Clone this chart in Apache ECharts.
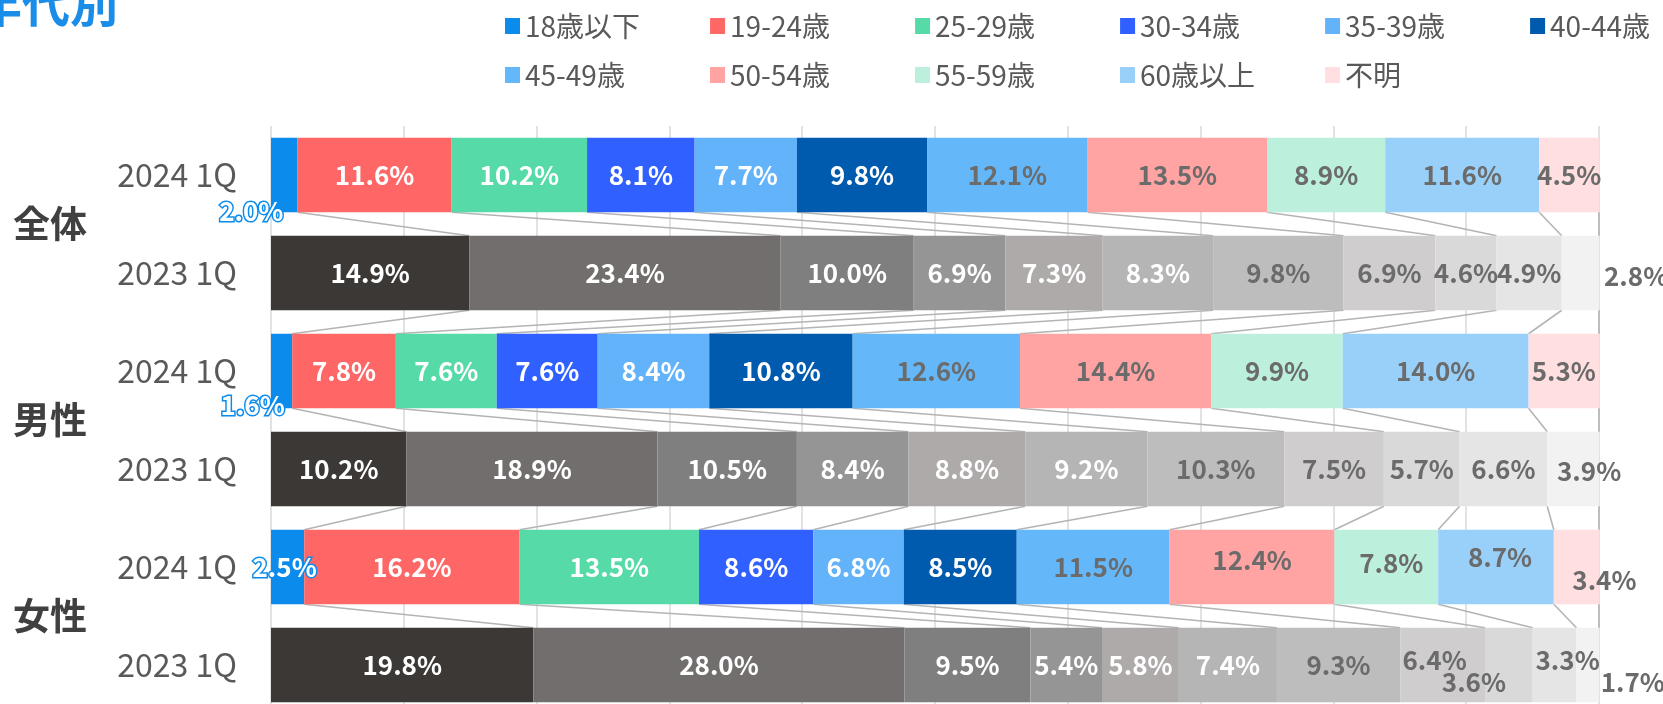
<!DOCTYPE html>
<html>
<head>
<meta charset="utf-8">
<script src="https://cdn.jsdelivr.net/npm/echarts@6/dist/echarts.min.js"></script>
<style>
  html, body { margin: 0; padding: 0; background: #fff; overflow: hidden; }
  #chart { width: 1663px; height: 720px; }
</style>
</head>
<body>
<div id="chart"></div>
<script>
const ageGroups = ['18歳以下', '19-24歳', '25-29歳', '30-34歳', '35-39歳', '40-44歳',
  '45-49歳', '50-54歳', '55-59歳', '60歳以上', '不明']
const rowLabels = ['2024 1Q', '2023 1Q', '2024 1Q', '2023 1Q', '2024 1Q', '2023 1Q']
const groupLabels = ['全体', '男性', '女性']

const all2024 = [2.0, 11.6, 10.2, 8.1, 7.7, 9.8, 12.1, 13.5, 8.9, 11.6, 4.5]
const all2023 = [14.9, 23.4, 10.0, 6.9, 7.3, 8.3, 9.8, 6.9, 4.6, 4.9, 2.8]
const male2024 = [1.6, 7.8, 7.6, 7.6, 8.4, 10.8, 12.6, 14.4, 9.9, 14.0, 5.3]
const male2023 = [10.2, 18.9, 10.5, 8.4, 8.8, 9.2, 10.3, 7.5, 5.7, 6.6, 3.9]
const female2024 = [2.5, 16.2, 13.5, 8.6, 6.8, 8.5, 11.5, 12.4, 7.8, 8.7, 3.4]
const female2023 = [19.8, 28.0, 9.5, 5.4, 5.8, 7.4, 9.3, 6.4, 3.6, 3.3, 1.7]
const rows = [all2024, all2023, male2024, male2023, female2024, female2023]

// colours
const colors2024 = ['#0b8ced', '#ff6666', '#56dba8', '#3060ff', '#62b3f9', '#005aad',
  '#64b8fa', '#ffa3a3', '#bcf0dd', '#99d0f9', '#ffdfe0']
const colors2023 = ['#3b3836', '#726e6d', '#7f7f7f', '#959595', '#aeaaaa', '#b5b5b5',
  '#bdbdbd', '#cfcdcd', '#d9d9d9', '#e5e5e5', '#f2f2f2']
const FONT = '"Noto Sans CJK JP", "Noto Sans", sans-serif'
const BAR_RATIO = 0.76

// hand-placed labels (like the moved labels in the original)
const blueLabel = { color: '#fff', textBorderColor: '#0b8ced', textBorderWidth: 3 }
const labelTweaks = {
  '0-0': Object.assign({ offset: [-33, 36] }, blueLabel),
  '2-0': Object.assign({ offset: [-29, 34] }, blueLabel),
  '4-0': Object.assign({ offset: [-3, 0] }, blueLabel),
  '1-10': { position: 'right', distance: 5, offset: [0, 3] },
  '3-10': { offset: [16, 2] },
  '4-10': { offset: [28, 13] },
  '4-7': { offset: [0, -7] },
  '4-8': { offset: [5, -4] },
  '4-9': { offset: [4, -10] },
  '5-7': { offset: [-8, -5] },
  '5-8': { offset: [-35, 17] },
  '5-9': { offset: [13, -5] },
  '5-10': { offset: [45, 17] }
}

// 100% stacked: share of each row total
const totals = rows.map(r => r.reduce((a, b) => a + b, 0))
const share = (r, s) => rows[r][s] * 100 / totals[r]

const barSeries = ageGroups.map((name, s) => ({
  name: name,
  type: 'bar',
  stack: 'total',
  barWidth: (BAR_RATIO * 100) + '%',
  z: 3,
  itemStyle: { color: colors2024[s] },
  label: {
    show: true,
    position: 'inside',
    fontFamily: FONT,
    fontSize: 26,
    fontWeight: 'bold',
    color: s < 6 ? '#ffffff' : '#6b6b6b',
    formatter: p => rows[p.dataIndex][s].toFixed(1) + '%'
  },
  data: rows.map((row, r) => {
    const item = { value: share(r, s) }
    if (r % 2 === 1) item.itemStyle = { color: colors2023[s] }
    if (labelTweaks[r + '-' + s]) item.label = labelTweaks[r + '-' + s]
    return item
  })
}))

// series lines between consecutive bars
const linkData = []
for (let r = 0; r < rows.length - 1; r++) {
  let c1 = 0
  let c2 = 0
  for (let s = 0; s < ageGroups.length; s++) {
    c1 += share(r, s)
    c2 += share(r + 1, s)
    linkData.push([c1, c2, r])
  }
}

const linkSeries = {
  type: 'custom',
  z: 2,
  silent: true,
  encode: { x: [0, 1], y: 2 },
  renderItem: (params, api) => {
    const a = api.coord([api.value(0), api.value(2)])
    const b = api.coord([api.value(1), api.value(2) + 1])
    const half = api.size([0, 1])[1] * BAR_RATIO / 2
    return {
      type: 'line',
      shape: { x1: a[0], y1: a[1] + half, x2: b[0], y2: b[1] - half },
      style: { stroke: '#b4b4b4', lineWidth: 1.6 }
    }
  },
  data: linkData
}

const legendBase = {
  left: 505,
  width: 1300,
  padding: 0,
  itemWidth: 15,
  itemHeight: 16,
  itemGap: 70,
  icon: 'rect',
  selectedMode: false,
  textStyle: { fontFamily: FONT, fontSize: 28, color: '#595959', width: 115, lineHeight: 30 }
}

const option = {
  animation: false,
  textStyle: { fontFamily: FONT },
  graphic: [{
    type: 'text',
    x: -26,
    y: -20,
    style: { text: '年代別', fontFamily: FONT, fontSize: 48, fontWeight: 'bold', fill: '#1a8de9' }
  }],
  legend: [
    Object.assign({ top: 11, data: ageGroups.slice(0, 6) }, legendBase),
    Object.assign({ top: 60, data: ageGroups.slice(6) }, legendBase)
  ],
  grid: { left: 271, right: 64, top: 126, height: 588, containLabel: false },
  xAxis: {
    type: 'value',
    min: 0,
    max: 100,
    interval: 10,
    axisLabel: { show: false },
    axisLine: { show: false },
    axisTick: { show: false },
    splitLine: { lineStyle: { color: '#d9d9d9', width: 1.5 } }
  },
  yAxis: [
    {
      type: 'category',
      position: 'left',
      inverse: true,
      data: rowLabels,
      axisLine: { show: false },
      axisTick: { show: false },
      axisLabel: { margin: 34, fontFamily: FONT, fontSize: 32, color: '#595959', padding: [0, 0, 8, 0] }
    },
    {
      type: 'category',
      position: 'left',
      inverse: true,
      data: groupLabels,
      axisLine: { show: false },
      axisTick: { show: false },
      axisLabel: {
        margin: 184,
        fontFamily: FONT,
        fontSize: 37,
        fontWeight: 'bold',
        color: '#404040',
        padding: [16, 0, 0, 0]
      }
    }
  ],
  series: [linkSeries].concat(barSeries)
}

const chart = echarts.init(document.getElementById('chart'))
chart.setOption(option)
window.addEventListener('resize', () => chart.resize())
</script>
</body>
</html>
